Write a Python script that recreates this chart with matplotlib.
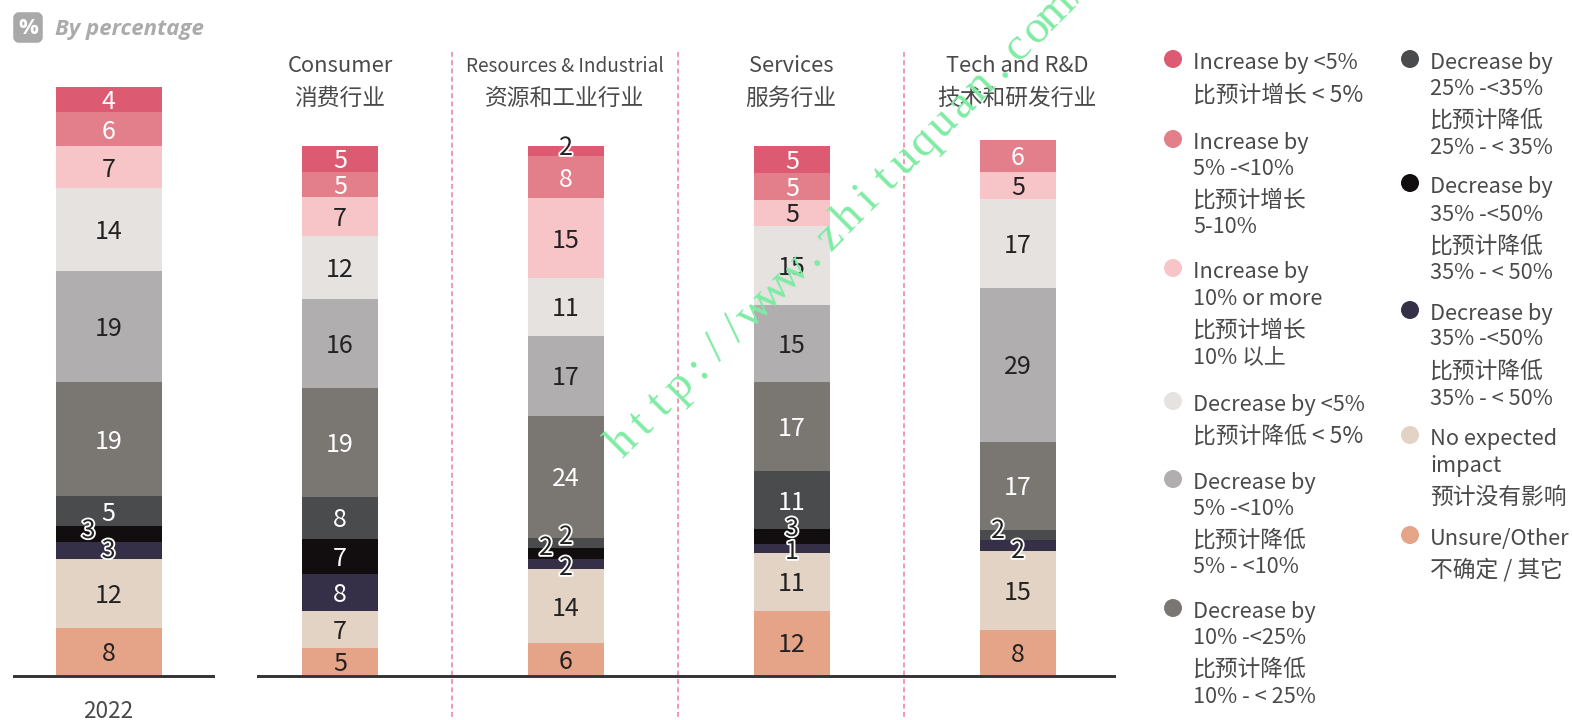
"""Expected change in salary budget, overall 2022 and by industry group."""

import numpy as np
import matplotlib
matplotlib.use("Agg")
import matplotlib.patheffects as pe
import matplotlib.pyplot as plt
from matplotlib.patches import Circle, FancyBboxPatch

W, H = 1572, 720
CJK = ["Noto Sans CJK SC", "DejaVu Sans"]

COLORS = ["#DC5A72", "#E37F8A", "#F7C4C8", "#E5E2DF", "#B0AEAF", "#7A7672",
          "#4A4B4D", "#120D0F", "#352F47", "#E3D3C5", "#E5A388"]
TEXT_COLORS = ["white", "white", "#222222", "#222222", "#222222", "white",
               "white", "white", "white", "#222222", "#222222"]

# printed numbers, top segment first
LABELS_2022 = [4, 6, 7, 14, 19, 19, 5, 3, 3, 12, 8]
LABELS_CONSUMER = [5, 5, 7, 12, 16, 19, 8, 7, 8, 7, 5]
LABELS_RESOURCES = [2, 8, 15, 11, 17, 24, 2, 2, 2, 14, 6]
LABELS_SERVICES = [5, 5, 5, 15, 15, 17, 11, 3, 1, 11, 12]
LABELS_TECH = [0, 6, 5, 17, 29, 17, 2, 0, 2, 15, 8]

# drawn segment sizes (unrounded)
SHARE_2022 = [4.25, 5.8, 7.15, 14.1, 18.9, 19.4, 5.1, 2.7, 2.9, 11.7, 8.0]
SHARE_CONSUMER = [4.9, 4.9, 7.2, 11.9, 16.8, 20.6, 7.9, 6.6, 7.0, 7.0, 5.1]
SHARE_RESOURCES = [1.9, 7.9, 15.1, 10.9, 15.1, 23.0, 1.9, 2.1, 1.9, 14.0, 6.0]
SHARE_SERVICES = [5.0, 5.1, 4.9, 14.9, 14.7, 16.8, 10.9, 2.8, 1.7, 10.9, 12.1]
SHARE_TECH = [0, 6.0, 5.1, 16.8, 29.1, 16.6, 1.9, 0, 2.1, 14.9, 8.5]

INDUSTRIES = ["Consumer\n消费行业", "Resources & Industrial\n资源和工业行业",
              "Services\n服务行业", "Tech and R&D\n技术和研发行业"]

LEGEND_1 = [
    ["Increase by <5%", "比预计增长 < 5%"],
    ["Increase by", "5% -<10%", "比预计增长", "5-10%"],
    ["Increase by", "10% or more", "比预计增长", "10% 以上"],
    ["Decrease by <5%", "比预计降低 < 5%"],
    ["Decrease by", "5% -<10%", "比预计降低", "5% - <10%"],
    ["Decrease by", "10% -<25%", "比预计降低", "10% - < 25%"],
]
LEGEND_2 = [
    ["Decrease by", "25% -<35%", "比预计降低", "25% - < 35%"],
    ["Decrease by", "35% -<50%", "比预计降低", "35% - < 50%"],
    ["Decrease by", "35% -<50%", "比预计降低", "35% - < 50%"],
    ["No expected", "impact", "预计没有影响"],
    ["Unsure/Other", "不确定 / 其它"],
]
LEGEND_1_Y = [[61, 93], [141, 167, 198, 225], [270, 297, 328, 355],
              [403, 434], [481, 507, 538, 565], [610, 636, 667, 695]]
LEGEND_2_Y = [[61, 87, 118, 146], [185, 213, 244, 271], [312, 337, 369, 397],
              [437, 464, 495], [537, 568]]
WATERMARK = "http://www.zhituquan.com/"

OUTLINE = [pe.withStroke(linewidth=2.6, foreground="white")]
# labels too big for their segment: (panel, segment) -> x shift, y in pixels
SMALL_2022 = {7: (-20, 531), 8: (0, 551)}
SMALL = {(1, 0): (0, 148), (1, 6): (0, 537), (1, 7): (-20, 548), (1, 8): (0, 568),
         (2, 7): (0, 529), (2, 8): (0, 552),
         (3, 6): (-20, 531), (3, 8): (0, 551)}

fig = plt.figure(figsize=(W / 100, H / 100), dpi=100)
BASE_PX = 675
TEXT_COL = "#4A4A4A"


def panel(left, right, px_per_unit):
    ax = fig.add_axes([left / W, 0, (right - left) / W, 1])
    ax.set_ylim(-(H - BASE_PX) / px_per_unit, BASE_PX / px_per_unit)
    ax.axis("off")
    ax.patch.set_alpha(0)
    return ax


def width_per_px(ax):
    x0, x1 = ax.get_xlim()
    return (x1 - x0) / (ax.get_position().width * W)


def draw_stack(ax, x, width, shares, labels, small, px_per_unit):
    bottom = sum(shares)
    for i, (share, label) in enumerate(zip(shares, labels)):
        bottom -= share
        if share == 0:
            continue
        ax.bar(x, share, width, bottom=bottom, color=COLORS[i], zorder=2)
        y = bottom + share / 2 - 2.5 / px_per_unit
        dx = 0
        kw = {"color": TEXT_COLORS[i]}
        if i in small:
            dx, ypx = small[i]
            y = (BASE_PX - ypx) / px_per_unit
            kw = {"color": "#222222", "path_effects": OUTLINE}
        ax.text(x + dx * width_per_px(ax), y, str(label), ha="center", va="center",
                family=CJK, fontsize=18, zorder=4, **kw)


# 2022 panel
scale_2022 = 5.88
ax1 = panel(13, 215, scale_2022)
ax1.set_xlim(-(108.5 - 13) / 106, (215 - 108.5) / 106)
draw_stack(ax1, 0, 1, SHARE_2022, LABELS_2022, SMALL_2022, scale_2022)
ax1.axhline(-0.8 / scale_2022, color="#333333", lw=2.1, zorder=3)

# industry panel
scale = 5.3
ax2 = panel(257, 1116, scale)
ax2.set_xlim(-(340 - 257) / 226, (1116 - 340) / 226)
for j, (shares, labels) in enumerate(zip(
        [SHARE_CONSUMER, SHARE_RESOURCES, SHARE_SERVICES, SHARE_TECH],
        [LABELS_CONSUMER, LABELS_RESOURCES, LABELS_SERVICES, LABELS_TECH])):
    small = {k[1]: v for k, v in SMALL.items() if k[0] == j}
    draw_stack(ax2, j, 76 / 226, shares, labels, small, scale)
ax2.axhline(-0.8 / scale, color="#333333", lw=2.1, zorder=3)
ax2.vlines([0.495, 1.495, 2.495], (BASE_PX - 52) / scale, -(H - BASE_PX) / scale,
           color="#EC8098", lw=1.1, linestyles=(0, (3.2, 2.2)), zorder=1)

# everything placed by pixel
bg = fig.add_axes([0, 0, 1, 1], zorder=5)
bg.set_xlim(0, W)
bg.set_ylim(H, 0)
bg.axis("off")
bg.patch.set_alpha(0)

bg.add_patch(FancyBboxPatch((16, 15), 24, 25, boxstyle="round,pad=0,rounding_size=3",
                            mutation_aspect=1, fc="#A9A9AA", ec="#A9A9AA", lw=4, joinstyle="round"))
bg.text(28, 28, "%", color="white", fontsize=16, weight="bold", family="Open Sans",
        ha="center", va="center")
bg.text(55, 30, "By percentage", color="#ABABAB", fontsize=16, weight="bold",
        style="italic", family="Open Sans", va="center")

for j, name in enumerate(INDUSTRIES):
    en, zh = name.split("\n")
    cx = 340 + 226 * j - (1 if j else 0)
    size = 13.7 if j == 1 else 15.8
    bg.text(cx, 66, en, family=CJK, fontsize=size, weight="light", color=TEXT_COL,
            ha="center", va="center")
    bg.text(cx, 98, zh, family=CJK, fontsize=16.4, weight="light", color=TEXT_COL,
            ha="center", va="center")
bg.text(108, 718, "2022", family=CJK, fontsize=16.3, weight="light", color=TEXT_COL,
        ha="center", va="baseline")

c = 0
for entries, ys, xc, xt in [(LEGEND_1, LEGEND_1_Y, 1173, 1193), (LEGEND_2, LEGEND_2_Y, 1410, 1430)]:
    for lines, line_y in zip(entries, ys):
        bg.add_patch(Circle((xc, line_y[0] - 2), 9, fc=COLORS[c], ec="none"))
        for line, y in zip(lines, line_y):
            size = 16.4 if line[0] in "比预不" else 15.7
            bg.text(xt, y + 2, line, family=CJK, fontsize=size, weight="light", color=TEXT_COL,
                    va="center")
        c += 1

# watermark: fixed pitch, one character at a time along a 45 degree line
step = 26.6 * np.array([np.cos(np.radians(45)), -np.sin(np.radians(45))])
start = np.array([631.0, 451.0])
for i, ch in enumerate(WATERMARK):
    px, py = start + i * step
    bg.text(px, py, ch, family="Liberation Serif", color="#7EEBA3", fontsize=34,
            rotation=45, rotation_mode="anchor", ha="center", va="baseline",
            zorder=10, clip_on=True)

fig.savefig("out.png", dpi=100)
